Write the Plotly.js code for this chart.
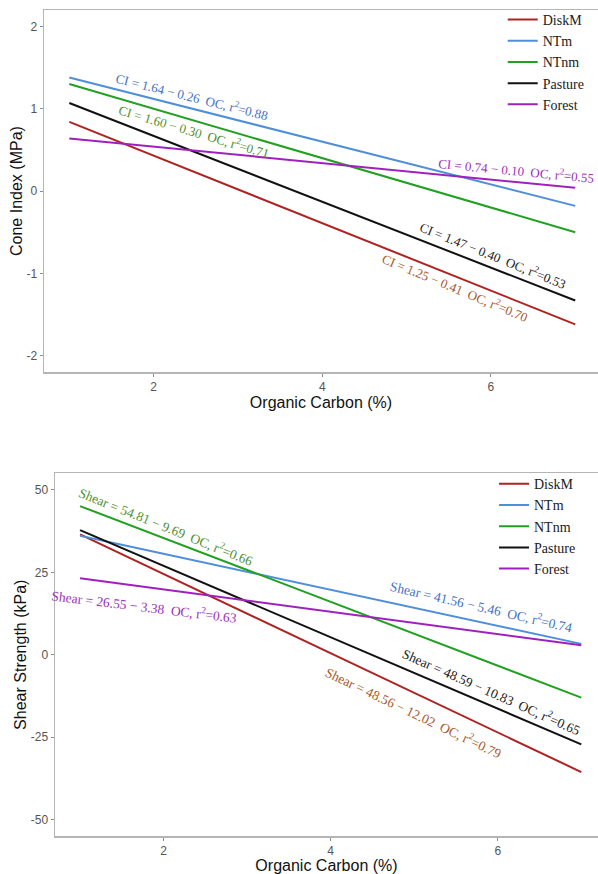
<!DOCTYPE html>
<html>
<head>
<meta charset="utf-8">
<script src="https://cdn.plot.ly/plotly-3.0.1.min.js"></script>
<style>html,body{margin:0;padding:0;background:#fff;}#chart{width:598px;height:874px;}</style>
</head>
<body>
<div id="chart"></div>
<script>
// ---- data ----
var seriesNames = ["DiskM", "NTm", "NTnm", "Pasture", "Forest"];
var organicCarbon = [1, 7];
// Cone Index (MPa) at OC = 1 and OC = 7
var ciDiskM   = [0.84, -1.62];
var ciNTm     = [1.38, -0.18];
var ciNTnm    = [1.30, -0.50];
var ciPasture = [1.07, -1.33];
var ciForest  = [0.64, 0.04];
// Shear Strength (kPa) at OC = 1 and OC = 7
var shDiskM   = [36.5, -35.6];
var shNTm     = [36.1, 3.3];
var shNTnm    = [45.1, -13.0];
var shPasture = [37.8, -27.2];
var shForest  = [23.2, 2.9];
// regression equation labels
var ciLabels = [
  "CI = 1.25 \u2212 0.41  OC, r<sup>2</sup>=0.70",
  "CI = 1.64 \u2212 0.26  OC, r<sup>2</sup>=0.88",
  "CI = 1.60 \u2212 0.30  OC, r<sup>2</sup>=0.71",
  "CI = 1.47 \u2212 0.40  OC, r<sup>2</sup>=0.53",
  "CI = 0.74 \u2212 0.10  OC, r<sup>2</sup>=0.55"
];
var shLabels = [
  "Shear = 48.56 \u2212 12.02  OC, r<sup>2</sup>=0.79",
  "Shear = 41.56 \u2212 5.46  OC, r<sup>2</sup>=0.74",
  "Shear = 54.81 \u2212 9.69  OC, r<sup>2</sup>=0.66",
  "Shear = 48.59 \u2212 10.83  OC, r<sup>2</sup>=0.65",
  "Shear = 26.55 \u2212 3.38  OC, r<sup>2</sup>=0.63"
];
var xTicks = [2, 4, 6];
var ciTicks = [-2, -1, 0, 1, 2];
var ciTickText = ["-2", "-1", "0", "1", "2"];
var shTicks = [-50, -25, 0, 25, 50];
var shTickText = ["-50", "-25", "0", "25", "50"];

// ---- styles ----
var lineColors = ["#AE2222", "#4F8FD9", "#22A022", "#111111", "#A020BE"];
var textColors = ["#A9572B", "#4472C4", "#4E8F2E", "#222222", "#9A30B8"];
// label placement (data coords) and rotation angle
var ciPos = [[5.57, -1.17, 22.5], [2.45, 1.16, 14], [2.48, 0.73, 16.5], [6.03, -0.78, 22], [6.30, 0.25, 5.5]];
var shPos = [[4.99, -17.5, 25.5], [5.80, 14.5, 13], [2.03, 39.0, 22], [5.92, -11.2, 24], [1.77, 14.5, 7]];

var ciData = [ciDiskM, ciNTm, ciNTnm, ciPasture, ciForest];
var shData = [shDiskM, shNTm, shNTnm, shPasture, shForest];

var traces = [];
seriesNames.forEach(function (n, i) {
  traces.push({x: organicCarbon, y: ciData[i], name: n, mode: "lines", type: "scatter",
    line: {color: lineColors[i], width: 2}, xaxis: "x", yaxis: "y", legend: "legend", hoverinfo: "skip"});
});
seriesNames.forEach(function (n, i) {
  traces.push({x: organicCarbon, y: shData[i], name: n, mode: "lines", type: "scatter",
    line: {color: lineColors[i], width: 2}, xaxis: "x2", yaxis: "y2", legend: "legend2", hoverinfo: "skip"});
});

var annFont = "Liberation Serif, Times New Roman, serif";
var annotations = [];
seriesNames.forEach(function (n, i) {
  annotations.push({xref: "x", yref: "y", x: ciPos[i][0], y: ciPos[i][1], text: ciLabels[i],
    textangle: ciPos[i][2], showarrow: false, font: {family: annFont, size: 13, color: textColors[i]}});
  annotations.push({xref: "x2", yref: "y2", x: shPos[i][0], y: shPos[i][1], text: shLabels[i],
    textangle: shPos[i][2], showarrow: false, font: {family: annFont, size: 13.5, color: textColors[i]}});
});

var sans = "Liberation Sans, Arial, sans-serif";
function axisBase() {
  return {
    showgrid: false, zeroline: false, showline: true, linecolor: "#b5b5b5", linewidth: 1.5,
    ticks: "outside", ticklen: 3, tickcolor: "#8a8a8a", tickwidth: 1,
    tickfont: {family: sans, size: 12, color: "#555555"}, automargin: false, fixedrange: true
  };
}
var xa = axisBase(); Object.assign(xa, {domain: [0, 1], range: [0.7, 7.27], tickvals: xTicks, mirror: true, anchor: "y",
  title: {text: "Organic Carbon (%)", font: {family: sans, size: 16, color: "#111"}, standoff: 1}});
var ya = axisBase(); Object.assign(ya, {domain: [0.5616, 1], range: [-2.2, 2.2], tickvals: ciTicks, ticktext: ciTickText, anchor: "x",
  title: {text: "Cone Index (MPa)", font: {family: sans, size: 16, color: "#111"}, standoff: 0}});
var xa2 = axisBase(); Object.assign(xa2, {domain: [0.01986, 1], range: [0.7, 7.2], tickvals: xTicks, mirror: true, anchor: "y2",
  title: {text: "Organic Carbon (%)", font: {family: sans, size: 16, color: "#111"}, standoff: 1}});
var ya2 = axisBase(); Object.assign(ya2, {domain: [0, 0.4389], range: [-55, 55], tickvals: shTicks, ticktext: shTickText, anchor: "x2",
  title: {text: "Shear Strength (kPa)", font: {family: sans, size: 16, color: "#111"}, standoff: 0}});

var legFont = {family: annFont, size: 14, color: "#1a1a1a"};
var layout = {
  width: 598, height: 874,
  margin: {l: 44, r: 0, t: 10, b: 38.3, autoexpand: false},
  paper_bgcolor: "#ffffff", plot_bgcolor: "#ffffff",
  showlegend: true,
  xaxis: xa, yaxis: ya, xaxis2: xa2, yaxis2: ya2,
  legend: {x: 0.828, y: 1.0073, xanchor: "left", yanchor: "top",
    bgcolor: "rgba(0,0,0,0)", borderwidth: 0, font: legFont, tracegroupgap: 0},
  legend2: {x: 0.8123, y: 0.4453, xanchor: "left", yanchor: "top",
    bgcolor: "rgba(0,0,0,0)", borderwidth: 0, font: legFont, tracegroupgap: 0},
  annotations: annotations
};
Plotly.newPlot("chart", traces, layout, {displayModeBar: false, staticPlot: true});
</script>
</body>
</html>
